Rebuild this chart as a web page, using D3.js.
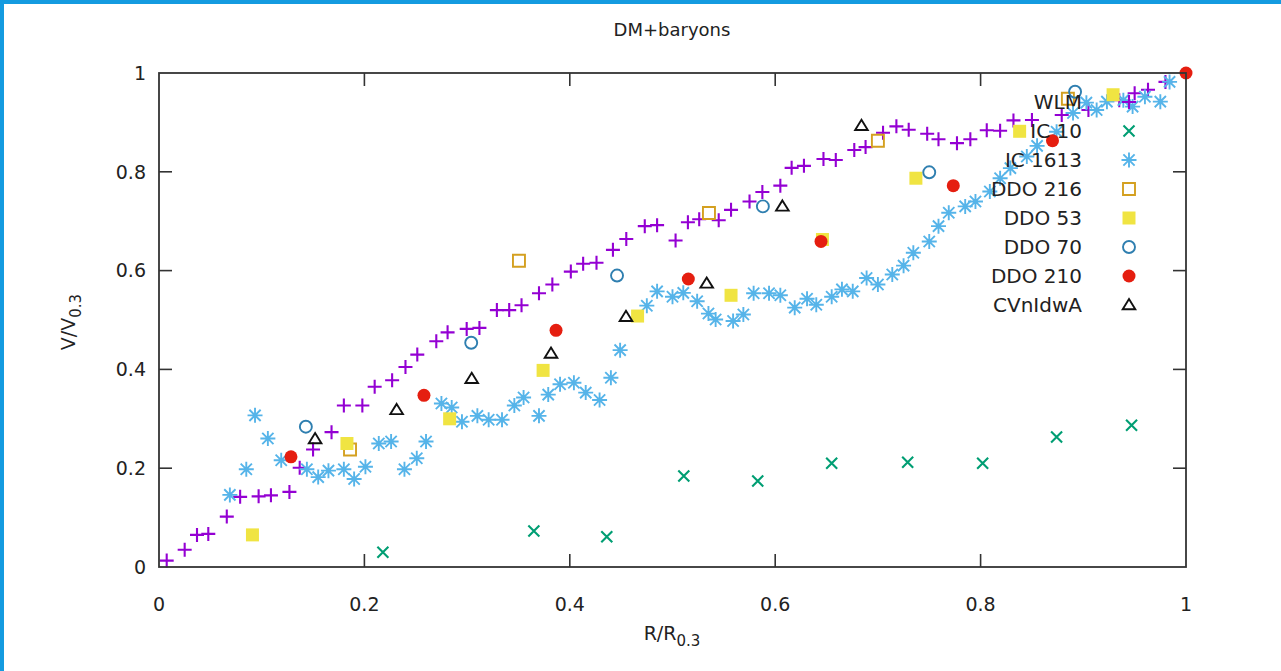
<!DOCTYPE html>
<html>
<head>
<meta charset="utf-8">
<script src="https://cdn.jsdelivr.net/npm/d3@7"></script>
<style>
  html, body { margin: 0; padding: 0; background: #fff; }
  svg { display: block; }
</style>
</head>
<body>
<div id="chart"></div>
<script>
// Series: R/R0.3 and V/V0.3 per galaxy
const wlmR = [0.0075, 0.025, 0.037, 0.048, 0.066, 0.079, 0.097, 0.109, 0.127, 0.137, 0.150, 0.168, 0.180, 0.198, 0.210, 0.227, 0.240, 0.2515, 0.270, 0.281, 0.2996, 0.312, 0.329, 0.341, 0.353, 0.370, 0.383, 0.401, 0.413, 0.426, 0.442, 0.455, 0.473, 0.485, 0.503, 0.515, 0.526, 0.545, 0.557, 0.575, 0.5875, 0.605, 0.616, 0.628, 0.647, 0.659, 0.677, 0.688, 0.705, 0.718, 0.730, 0.748, 0.759, 0.777, 0.790, 0.806, 0.819, 0.832, 0.850, 0.879, 0.905, 0.935, 0.950, 0.963, 0.980];
const wlmV = [0.013, 0.035, 0.065, 0.067, 0.102, 0.142, 0.143, 0.145, 0.152, 0.201, 0.238, 0.273, 0.327, 0.327, 0.365, 0.378, 0.405, 0.430, 0.457, 0.475, 0.482, 0.484, 0.520, 0.520, 0.530, 0.554, 0.572, 0.598, 0.614, 0.616, 0.642, 0.664, 0.690, 0.692, 0.661, 0.698, 0.704, 0.702, 0.723, 0.740, 0.759, 0.772, 0.808, 0.812, 0.826, 0.824, 0.844, 0.850, 0.879, 0.892, 0.885, 0.877, 0.866, 0.858, 0.866, 0.884, 0.883, 0.904, 0.905, 0.915, 0.925, 0.945, 0.959, 0.966, 0.982];

const ic10R = [0.218, 0.365, 0.436, 0.511, 0.583, 0.655, 0.729, 0.802, 0.874, 0.947];
const ic10V = [0.030, 0.073, 0.061, 0.184, 0.174, 0.210, 0.212, 0.210, 0.263, 0.287];

const ic1613R = [0.069, 0.085, 0.0935, 0.106, 0.119, 0.144, 0.155, 0.165, 0.180, 0.190, 0.201, 0.214, 0.226, 0.239, 0.251, 0.260, 0.275, 0.285, 0.295, 0.310, 0.321, 0.334, 0.346, 0.355, 0.370, 0.379, 0.3905, 0.404, 0.4155, 0.429, 0.440, 0.449, 0.475, 0.485, 0.500, 0.5105, 0.524, 0.535, 0.542, 0.559, 0.569, 0.579, 0.594, 0.605, 0.619, 0.631, 0.640, 0.655, 0.665, 0.6755, 0.689, 0.700, 0.714, 0.725, 0.7345, 0.750, 0.759, 0.769, 0.785, 0.795, 0.809, 0.819, 0.829, 0.845, 0.855, 0.874, 0.890, 0.903, 0.913, 0.923, 0.939, 0.948, 0.960, 0.975, 0.984];
const ic1613V = [0.146, 0.198, 0.307, 0.260, 0.216, 0.198, 0.182, 0.195, 0.198, 0.178, 0.203, 0.250, 0.254, 0.198, 0.220, 0.254, 0.331, 0.323, 0.294, 0.306, 0.298, 0.298, 0.327, 0.343, 0.306, 0.349, 0.370, 0.373, 0.353, 0.338, 0.383, 0.439, 0.529, 0.558, 0.547, 0.555, 0.538, 0.513, 0.501, 0.498, 0.511, 0.554, 0.554, 0.550, 0.525, 0.543, 0.531, 0.547, 0.562, 0.558, 0.585, 0.572, 0.592, 0.610, 0.636, 0.659, 0.690, 0.717, 0.730, 0.740, 0.760, 0.787, 0.8075, 0.831, 0.8525, 0.881, 0.919, 0.940, 0.925, 0.942, 0.945, 0.932, 0.952, 0.942, 0.982];

const ddo216R = [0.186, 0.3505, 0.5355, 0.700, 0.885];
const ddo216V = [0.238, 0.620, 0.7165, 0.863, 0.948];

const ddo53R = [0.091, 0.183, 0.283, 0.374, 0.466, 0.557, 0.646, 0.737, 0.838, 0.929];
const ddo53V = [0.065, 0.250, 0.300, 0.398, 0.508, 0.550, 0.663, 0.787, 0.882, 0.956];

const ddo70R = [0.143, 0.304, 0.446, 0.588, 0.750, 0.892];
const ddo70V = [0.284, 0.454, 0.590, 0.730, 0.799, 0.962];

const ddo210R = [0.1285, 0.258, 0.3866, 0.5154, 0.6446, 0.7734, 0.870, 1.0];
const ddo210V = [0.223, 0.3475, 0.479, 0.583, 0.659, 0.772, 0.863, 1.0];

const cvnR = [0.152, 0.2314, 0.3045, 0.3817, 0.4547, 0.5333, 0.607, 0.684];
const cvnV = [0.259, 0.318, 0.381, 0.432, 0.5065, 0.574, 0.730, 0.893];

const seriesNames = ['WLM', 'IC 10', 'IC 1613', 'DDO 216', 'DDO 53', 'DDO 70', 'DDO 210', 'CVnIdwA'];
const tickValues = [0, 0.2, 0.4, 0.6, 0.8, 1];

const width = 1281;
const height = 671;
const margin = { top: 73, right: 95, bottom: 104, left: 159 };
const plotW = width - margin.left - margin.right;
const plotH = height - margin.top - margin.bottom;
const font = '"DejaVu Sans", Verdana, sans-serif';

const svg = d3.select('#chart').append('svg')
    .attr('width', width)
    .attr('height', height);

// blue frame of the screenshot (top and left edges)
svg.append('rect').attr('x', 0).attr('y', 0).attr('width', width).attr('height', 4).attr('fill', '#149be0');
svg.append('rect').attr('x', 0).attr('y', 0).attr('width', 4).attr('height', height).attr('fill', '#149be0');

const x = d3.scaleLinear().domain([0, 1]).range([0, plotW]);
const y = d3.scaleLinear().domain([0, 1]).range([plotH, 0]);

const g = svg.append('g').attr('transform', `translate(${margin.left},${margin.top})`);

// gnuplot style point types
const glyphs = {
    plus: s => `M${-s},0H${s}M0,${-s}V${s}`,
    cross: s => `M${-s},${-s}L${s},${s}M${-s},${s}L${s},${-s}`,
    star: s => `M${-s},0H${s}M0,${-s}V${s}M${-s * 0.75},${-s * 0.75}L${s * 0.75},${s * 0.75}M${-s * 0.75},${s * 0.75}L${s * 0.75},${-s * 0.75}`,
    square: s => `M${-s},${-s}H${s}V${s}H${-s}Z`,
    circle: s => `M${s},0A${s},${s},0,1,1,${-s},0A${s},${s},0,1,1,${s},0Z`,
    triangle: s => `M0,${-s}L${s * 1.05},${s * 0.7}H${-s * 1.05}Z`
};

const series = [
    { name: seriesNames[0], r: wlmR, v: wlmV, glyph: 'plus', size: 7, color: '#9400d3', fill: false },
    { name: seriesNames[1], r: ic10R, v: ic10V, glyph: 'cross', size: 5.5, color: '#009e73', fill: false },
    { name: seriesNames[2], r: ic1613R, v: ic1613V, glyph: 'star', size: 7.5, color: '#56b4e9', fill: false },
    { name: seriesNames[3], r: ddo216R, v: ddo216V, glyph: 'square', size: 6, color: '#d4a020', fill: false },
    { name: seriesNames[4], r: ddo53R, v: ddo53V, glyph: 'square', size: 6.5, color: '#f0e442', fill: true },
    { name: seriesNames[5], r: ddo70R, v: ddo70V, glyph: 'circle', size: 6, color: '#2f7fb0', fill: false },
    { name: seriesNames[6], r: ddo210R, v: ddo210V, glyph: 'circle', size: 6.5, color: '#e51e10', fill: true },
    { name: seriesNames[7], r: cvnR, v: cvnV, glyph: 'triangle', size: 6, color: '#111', fill: false }
];

function drawGlyph(sel, s) {
    sel.attr('d', glyphs[s.glyph](s.size))
        .attr('fill', s.fill ? s.color : 'none')
        .attr('stroke', s.fill ? 'none' : s.color)
        .attr('stroke-width', s.glyph === 'plus' || s.glyph === 'cross' ? 2.1 : 1.9);
}

// ticks (mirrored on all four sides, pointing inward)
const tickLen = 13;
const axes = g.append('g').attr('stroke', '#333').attr('stroke-width', 1.6);
tickValues.forEach(t => {
    if (t > 0 && t < 1) {
        axes.append('line').attr('x1', x(t)).attr('x2', x(t)).attr('y1', plotH).attr('y2', plotH - tickLen);
        axes.append('line').attr('x1', x(t)).attr('x2', x(t)).attr('y1', 0).attr('y2', tickLen);
        axes.append('line').attr('x1', 0).attr('x2', tickLen).attr('y1', y(t)).attr('y2', y(t));
        axes.append('line').attr('x1', plotW).attr('x2', plotW - tickLen).attr('y1', y(t)).attr('y2', y(t));
    }
});

// data points
series.forEach(s => {
    g.append('g').selectAll('path')
        .data(s.r.map((r, i) => [r, s.v[i]]))
        .enter().append('path')
        .attr('transform', d => `translate(${x(d[0])},${y(d[1])})`)
        .call(drawGlyph, s);
});

// border box
g.append('rect')
    .attr('width', plotW).attr('height', plotH)
    .attr('fill', 'none').attr('stroke', '#333').attr('stroke-width', 1.8);

// tick labels
g.append('g').selectAll('text')
    .data(tickValues).enter().append('text')
    .attr('x', d => x(d)).attr('y', plotH + 44)
    .attr('text-anchor', 'middle')
    .style('font-family', font).style('font-size', '19px').style('fill', '#222')
    .text(d => d3.format('~g')(d));

g.append('g').selectAll('text')
    .data(tickValues).enter().append('text')
    .attr('x', -13).attr('y', d => y(d)).attr('dy', '0.36em')
    .attr('text-anchor', 'end')
    .style('font-family', font).style('font-size', '19px').style('fill', '#222')
    .text(d => d3.format('~g')(d));

// title
svg.append('text')
    .attr('x', 672).attr('y', 36)
    .attr('text-anchor', 'middle')
    .style('font-family', font).style('font-size', '18px').style('fill', '#222')
    .text('DM+baryons');

// axis labels with subscripts
const xl = svg.append('text')
    .attr('x', 672).attr('y', 640)
    .attr('text-anchor', 'middle')
    .style('font-family', font).style('font-size', '19px').style('fill', '#222');
xl.append('tspan').text('R/R');
xl.append('tspan').attr('dy', 6).style('font-size', '15px').text('0.3');

const yl = svg.append('text')
    .attr('transform', 'translate(75,322) rotate(-90)')
    .attr('text-anchor', 'middle')
    .style('font-family', font).style('font-size', '19px').style('fill', '#222');
yl.append('tspan').text('V/V');
yl.append('tspan').attr('dy', 6).style('font-size', '15px').text('0.3');

// legend
const legend = svg.append('g');
const legendItems = legend.selectAll('g')
    .data(series).enter().append('g')
    .attr('transform', (d, i) => `translate(0,${102 + i * 29})`);

legendItems.append('text')
    .attr('x', 1082).attr('dy', '0.36em')
    .attr('text-anchor', 'end')
    .style('font-family', font).style('font-size', '20px').style('fill', '#222')
    .text(d => d.name);

legendItems.append('path')
    .attr('transform', 'translate(1129,0)')
    .each(function(d) { d3.select(this).call(drawGlyph, d); });
</script>
</body>
</html>
